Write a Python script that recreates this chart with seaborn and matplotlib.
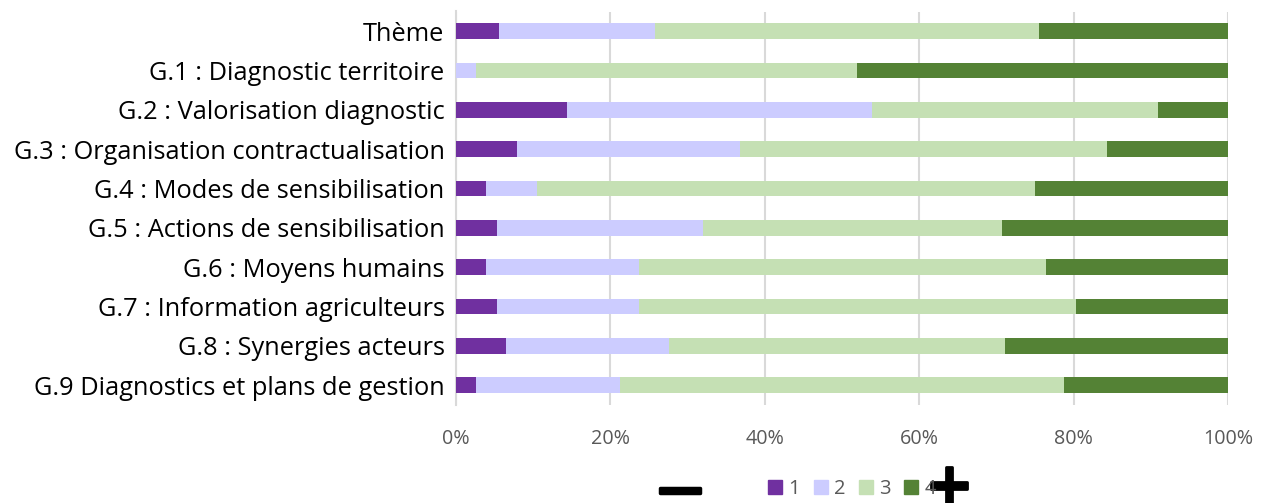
import matplotlib
matplotlib.use("Agg")
import matplotlib.pyplot as plt
import matplotlib.patches as mpatches
import matplotlib.patheffects as pe
import seaborn as sns
import pandas as pd
import numpy as np

categories = [
    "Thème",
    "G.1 : Diagnostic territoire",
    "G.2 : Valorisation diagnostic",
    "G.3 : Organisation contractualisation",
    "G.4 : Modes de sensibilisation",
    "G.5 : Actions de sensibilisation",
    "G.6 : Moyens humains",
    "G.7 : Information agriculteurs",
    "G.8 : Synergies acteurs",
    "G.9 Diagnostics et plans de gestion",
]
level_1 = [5.6, 0.0, 14.4, 7.9, 3.9, 5.3, 3.9, 5.3, 6.5, 2.6]
level_2 = [20.2, 2.6, 39.5, 28.9, 6.6, 26.7, 19.8, 18.4, 21.1, 18.7]
level_3 = [49.7, 49.4, 37.0, 47.5, 64.5, 38.7, 52.7, 56.6, 43.4, 57.4]
level_4 = [24.5, 48.0, 9.1, 15.7, 25.0, 29.3, 23.6, 19.7, 28.9, 21.3]
levels = ["1", "2", "3", "4"]
colors = ["#7030A0", "#CCCCFF", "#C5E0B4", "#548235"]
x_ticks = [0, 20, 40, 60, 80, 100]

sns.set_theme(style="white")
plt.rcParams["font.family"] = ["Open Sans", "DejaVu Sans"]

df = pd.DataFrame({"cat": categories, "1": level_1, "2": level_2, "3": level_3, "4": level_4})
tot = df[levels].sum(axis=1)
for l in levels:
    df[l] = df[l] / tot * 100
cum = df[levels].cumsum(axis=1)

W, H = 1268, 503
FS_Y = 18.3
FS_X = 14.2
FS_L = 14.5
fig = plt.figure(figsize=(W / 100, H / 100), dpi=100)
ax = fig.add_axes([455.7 / W, 1 - 404.9 / H, (1228.3 - 455.7) / W, (404.9 - 11.5) / H])

for i in reversed(range(4)):
    sns.barplot(x=cum[levels[i]], y=df["cat"], orient="h", color=colors[i],
                width=0.4, ax=ax, saturation=1, edgecolor="none", zorder=3)

ax.set_xlim(0, 100)
ax.set_xticks(x_ticks)
ax.set_xticklabels([f"{t}%" for t in x_ticks])
ax.set_xlabel("")
ax.set_ylabel("")
ax.grid(axis="x", color="#D9D9D9", linewidth=1.5, zorder=0)
ax.set_axisbelow(True)
for s in ["top", "right", "bottom"]:
    ax.spines[s].set_visible(False)
ax.spines["left"].set_color("#D9D9D9")
ax.spines["left"].set_linewidth(1.5)
ax.tick_params(axis="x", length=0, pad=17, labelsize=FS_X, labelcolor="#595959")
ax.tick_params(axis="y", length=0, pad=8, labelsize=FS_Y, labelcolor="black")

handles = [mpatches.Patch(color=c, label=l) for c, l in zip(colors, levels)]
fig.legend(handles=handles, loc="center", bbox_to_anchor=(852 / W, 1 - 489 / H), ncol=4,
           frameon=False, fontsize=FS_L, labelcolor="#595959", handlelength=0.7,
           handleheight=0.7, handletextpad=0.3, columnspacing=0.68, borderpad=0)

fig.text(680 / W, 1 - 490 / H, "—", fontsize=32, fontweight="bold", ha="center", va="center",
         family=["DejaVu Sans"], color="black",
         path_effects=[pe.withStroke(linewidth=2.5, foreground="black")])
fig.text(949 / W, 1 - 487 / H, "+", fontsize=42, fontweight="bold", ha="center", va="center",
         family=["DejaVu Sans"], color="black",
         path_effects=[pe.withStroke(linewidth=2, foreground="black")])

fig.savefig("out.png", dpi=100)
